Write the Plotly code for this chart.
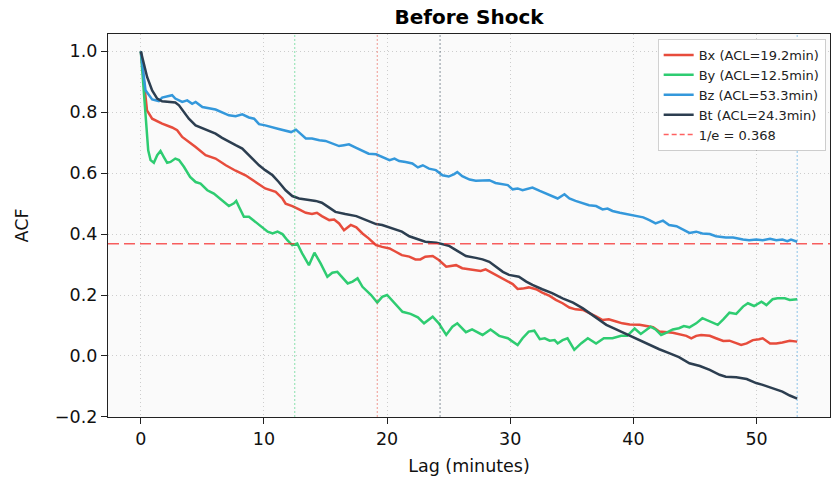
import plotly.graph_objects as go

# ---- data ----
lag_bx = [0, 0.33, 0.5, 0.92, 1.73, 2.54, 2.95, 3.36, 3.9, 4.45, 5.26, 6.07, 6.9, 7.7, 8.5, 9.3, 10.1, 10.95, 11.5, 11.76,
          12.3, 12.85, 13.4, 13.9, 14.3, 14.7, 15.3, 15.7, 16.1, 16.5, 16.8, 17.05, 17.5, 18.0, 18.5, 19.1, 19.6, 20.2,
          20.7, 21.2, 21.8, 22.3, 22.7, 23.1, 23.7, 24.2, 24.8, 25.3, 25.6, 26.1, 27.2, 27.6, 28.0, 28.6, 29.1, 29.65,
          30.2, 30.6, 31.0, 31.5, 32.1, 32.6, 33.2, 33.7, 34.25, 34.8, 35.3, 35.9, 36.4, 37.0, 37.5, 38.0, 38.6, 39.1,
          39.7, 40.5, 41.6, 42.1, 43.2, 43.7, 44.3, 44.7, 45.1, 45.5, 46.2, 46.7, 47.3, 47.8, 48.35, 48.75, 49.2, 49.7,
          50.2, 50.5, 51.1, 51.6, 52.1, 52.7, 53.3]
acf_bx = [1.0, 0.872, 0.806, 0.779, 0.763, 0.75, 0.741, 0.719, 0.703, 0.686, 0.659, 0.648, 0.626, 0.608, 0.593, 0.571,
          0.55, 0.539, 0.517, 0.5, 0.492, 0.481, 0.47, 0.466, 0.47, 0.459, 0.446, 0.448, 0.435, 0.413, 0.422, 0.43,
          0.422, 0.402, 0.386, 0.364, 0.358, 0.353, 0.342, 0.331, 0.326, 0.317, 0.317, 0.326, 0.328, 0.315, 0.293,
          0.296, 0.298, 0.288, 0.282, 0.279, 0.284, 0.271, 0.26, 0.249, 0.236, 0.22, 0.221, 0.225, 0.219, 0.208, 0.197,
          0.184, 0.173, 0.159, 0.153, 0.151, 0.142, 0.129, 0.118, 0.12, 0.113, 0.107, 0.103, 0.102, 0.094, 0.08, 0.076,
          0.072, 0.066, 0.058, 0.066, 0.069, 0.066, 0.058, 0.049, 0.05, 0.041, 0.036, 0.041, 0.052, 0.055, 0.058,
          0.041, 0.041, 0.044, 0.05, 0.047]

lag_by = [0, 0.24, 0.43, 0.6, 0.79, 1.06, 1.33, 1.6, 1.87, 2.14, 2.41, 2.8, 3.1, 3.5, 4.0, 4.45, 4.85, 5.4, 5.93, 6.5,
          7.15, 7.56, 7.75, 7.97, 8.37, 8.78, 9.3, 9.86, 10.3, 10.7, 11.1, 11.5, 11.9, 12.3, 12.7, 13.1, 13.65, 14.1,
          14.6, 15.15, 15.55, 15.96, 16.4, 16.8, 17.2, 17.6, 18.0, 18.7, 19.2, 19.6, 20.0, 20.6, 21.25, 21.9, 22.5,
          23.0, 23.7, 24.2, 24.8, 25.3, 25.7, 26.4, 26.9, 27.75, 28.4, 29.1, 29.8, 30.6, 31.0, 31.5, 31.95, 32.4,
          32.8, 33.2, 33.6, 33.85, 34.25, 34.65, 35.2, 35.75, 36.3, 36.97, 37.6, 38.3, 39.0, 39.5, 40.1, 40.6, 41.0,
          41.4, 41.8, 42.25, 42.65, 43.2, 43.7, 44.1, 44.55, 45.1, 45.6, 46.2, 46.85, 47.3, 47.8, 48.35, 48.9, 49.3,
          49.8, 50.4, 50.8, 51.3, 51.7, 52.3, 52.7, 53.3]
acf_by = [1.0, 0.872, 0.763, 0.675, 0.643, 0.634, 0.659, 0.673, 0.653, 0.634, 0.637, 0.648, 0.643, 0.621, 0.588,
          0.571, 0.566, 0.544, 0.533, 0.514, 0.492, 0.501, 0.509, 0.49, 0.457, 0.457, 0.44, 0.424, 0.408, 0.402,
          0.408, 0.4, 0.38, 0.364, 0.369, 0.337, 0.298, 0.339, 0.304, 0.26, 0.273, 0.276, 0.255, 0.238, 0.244, 0.255,
          0.227, 0.2, 0.175, 0.194, 0.2, 0.173, 0.145, 0.138, 0.127, 0.107, 0.129, 0.107, 0.069, 0.096, 0.107, 0.078,
          0.087, 0.069, 0.087, 0.066, 0.058, 0.036, 0.058, 0.08, 0.083, 0.055, 0.058, 0.05, 0.052, 0.041, 0.052,
          0.058, 0.02, 0.041, 0.058, 0.041, 0.058, 0.058, 0.066, 0.066, 0.09, 0.072, 0.085, 0.096, 0.087, 0.069,
          0.076, 0.087, 0.091, 0.098, 0.094, 0.107, 0.124, 0.113, 0.102, 0.12, 0.142, 0.138, 0.162, 0.173, 0.164,
          0.178, 0.167, 0.186, 0.189, 0.189, 0.184, 0.186]

lag_bz = [0, 0.38, 0.92, 1.46, 1.73, 2.54, 2.8, 3.36, 3.77, 4.17, 4.45, 5.0, 6.07, 7.15, 7.7, 8.24, 8.78, 9.2, 9.6,
          10.1, 11.2, 12.2, 12.6, 13.0, 13.4, 13.9, 14.5, 15.0, 15.55, 16.1, 16.5, 16.9, 17.45, 18.0, 18.5, 19.1,
          19.6, 20.2, 20.6, 20.98, 21.5, 22.05, 22.5, 22.9, 23.4, 23.96, 24.5, 25.0, 25.45, 25.7, 26.1, 26.7, 27.2,
          27.75, 28.3, 28.8, 29.4, 29.8, 30.2, 30.6, 31.0, 31.8, 32.4, 32.9, 33.4, 33.85, 34.4, 34.8, 35.3, 35.9,
          36.4, 36.97, 37.5, 37.9, 38.3, 38.9, 39.4, 40.2, 40.8, 41.3, 41.8, 42.4, 42.9, 43.5, 44.0, 44.55, 45.1,
          45.6, 46.2, 46.7, 47.5, 48.1, 48.9, 49.4, 49.97, 50.5, 51.1, 51.6, 52.1, 52.5, 52.8, 53.3]
acf_bz = [1.0, 0.872, 0.842, 0.837, 0.848, 0.856, 0.845, 0.834, 0.839, 0.828, 0.834, 0.817, 0.809, 0.79, 0.787,
          0.793, 0.783, 0.779, 0.761, 0.757, 0.745, 0.735, 0.743, 0.73, 0.714, 0.714, 0.708, 0.706, 0.697, 0.689,
          0.692, 0.695, 0.684, 0.673, 0.664, 0.662, 0.653, 0.643, 0.648, 0.64, 0.637, 0.632, 0.619, 0.626, 0.615,
          0.61, 0.593, 0.589, 0.597, 0.604, 0.59, 0.579, 0.575, 0.575, 0.577, 0.568, 0.564, 0.561, 0.547, 0.55,
          0.544, 0.553, 0.542, 0.533, 0.525, 0.517, 0.531, 0.517, 0.509, 0.501, 0.495, 0.492, 0.481, 0.484, 0.476,
          0.47, 0.466, 0.462, 0.455, 0.446, 0.435, 0.444, 0.43, 0.426, 0.415, 0.404, 0.408, 0.402, 0.4, 0.393,
          0.389, 0.389, 0.382, 0.38, 0.382, 0.38, 0.385, 0.38, 0.382, 0.377, 0.382, 0.375]

lag_bt = [0, 0.24, 0.51, 0.92, 1.33, 1.73, 2.8, 3.1, 3.5, 3.9, 4.45, 5.0, 5.5, 6.07, 6.6, 7.15, 7.7, 8.24, 8.5, 9.05,
          9.6, 10.1, 10.7, 11.2, 11.76, 12.3, 12.85, 14.2, 14.7, 15.3, 15.8, 16.6, 17.5, 18.3, 19.1, 19.6, 20.2,
          21.2, 21.8, 22.3, 23.1, 24.0, 24.5, 25.0, 25.7, 26.4, 27.2, 27.75, 28.3, 28.8, 29.4, 29.9, 30.7, 31.3,
          31.8, 32.6, 33.4, 34.25, 35.1, 35.9, 36.4, 36.97, 37.8, 38.6, 39.4, 40.2, 40.5, 41.3, 42.1, 42.9, 43.7,
          44.55, 45.4, 46.2, 47.0, 47.5, 48.35, 49.2, 49.97, 50.5, 51.3, 52.1, 52.7, 53.3]
acf_bt = [1.0, 0.96, 0.916, 0.872, 0.845, 0.836, 0.832, 0.823, 0.801, 0.779, 0.757, 0.747, 0.739, 0.73, 0.716,
          0.703, 0.692, 0.681, 0.67, 0.648, 0.626, 0.61, 0.593, 0.571, 0.544, 0.525, 0.517, 0.509, 0.503, 0.487,
          0.473, 0.466, 0.459, 0.446, 0.433, 0.43, 0.422, 0.408, 0.393, 0.386, 0.375, 0.372, 0.367, 0.362, 0.345,
          0.328, 0.322, 0.317, 0.309, 0.293, 0.276, 0.266, 0.26, 0.244, 0.233, 0.219, 0.206, 0.189, 0.175, 0.156,
          0.142, 0.124, 0.102, 0.087, 0.072, 0.055, 0.05, 0.036, 0.022, 0.009, -0.004, -0.024, -0.033, -0.046,
          -0.062, -0.068, -0.07, -0.076, -0.089, -0.095, -0.106, -0.117, -0.13, -0.14]

names = ["Bx", "By", "Bz", "Bt"]
acl_minutes = [19.2, 12.5, 53.3, 24.3]
colors = ["#e74c3c", "#2ecc71", "#3498db", "#2c3e50"]
threshold = 0.368
threshold_label = "1/e = 0.368"
x_ticks = [0, 10, 20, 30, 40, 50]
y_ticks = [-0.2, 0.0, 0.2, 0.4, 0.6, 0.8, 1.0]

lags = [lag_bx, lag_by, lag_bz, lag_bt]
acfs = [acf_bx, acf_by, acf_bz, acf_bt]

FONT = "DejaVu Sans"
fig = go.Figure()
for n, lg, ac, c, acl in zip(names, lags, acfs, colors, acl_minutes):
    fig.add_trace(go.Scatter(x=lg, y=ac, mode="lines", name=f"{n} (ACL={acl}min)",
                             line=dict(color=c, width=2.5)))
fig.add_trace(go.Scatter(x=[None], y=[None], mode="lines", name=threshold_label,
                         line=dict(color="rgba(255,30,30,0.7)", width=1.5, dash="5px,3px")))

# 1/e line
fig.add_hline(y=threshold, line=dict(color="rgba(245,40,40,0.75)", width=1.5, dash="11px,5px"), layer="above")
for acl, c in zip(acl_minutes, colors):
    fig.add_vline(x=acl, line=dict(color=c, width=1, dash="2px,2px"), opacity=0.55, layer="above")

xmin, xmax = 0, max(acl_minutes)
xpad = 0.05 * (xmax - xmin)
ymin, ymax = min(acf_bt), 1.0
ypad = 0.05 * (ymax - ymin)

axis_common = dict(showline=True, linecolor="#222", linewidth=1.3, mirror=True, ticks="outside",
                   ticklen=6, tickwidth=1.3, tickcolor="#222", showgrid=True,
                   gridcolor="rgba(0,0,0,0.18)", griddash="1px,3px", gridwidth=1, zeroline=False,
                   tickfont=dict(family=FONT, size=17.5, color="#111"))

fig.update_layout(
    width=831, height=484,
    margin=dict(l=108, r=1, t=34, b=67),
    paper_bgcolor="white", plot_bgcolor="#fafafa",
    title=dict(text="<b>Before Shock</b>", x=0.5, xref="paper", y=1 - 17 / 484, yref="container",
               xanchor="center", yanchor="middle", font=dict(family=FONT, size=20, color="#000")),
    xaxis=dict(range=[xmin - xpad, xmax + xpad], tickvals=x_ticks,
               title=dict(text="Lag (minutes)", font=dict(family=FONT, size=17.5, color="#111"), standoff=11),
               **axis_common),
    yaxis=dict(range=[-0.2005, ymax + ypad], tickvals=y_ticks, tickformat=".1f",
               title=dict(text="ACF", font=dict(family=FONT, size=17.5, color="#111"), standoff=21),
               **axis_common),
    legend=dict(x=0.994, y=0.987, xanchor="right", yanchor="top", bgcolor="white",
                bordercolor="rgba(0,0,0,0.18)", borderwidth=1,
                font=dict(family=FONT, size=13, color="#222"), tracegroupgap=0),
    showlegend=True,
)

fig.write_html("out.html")
